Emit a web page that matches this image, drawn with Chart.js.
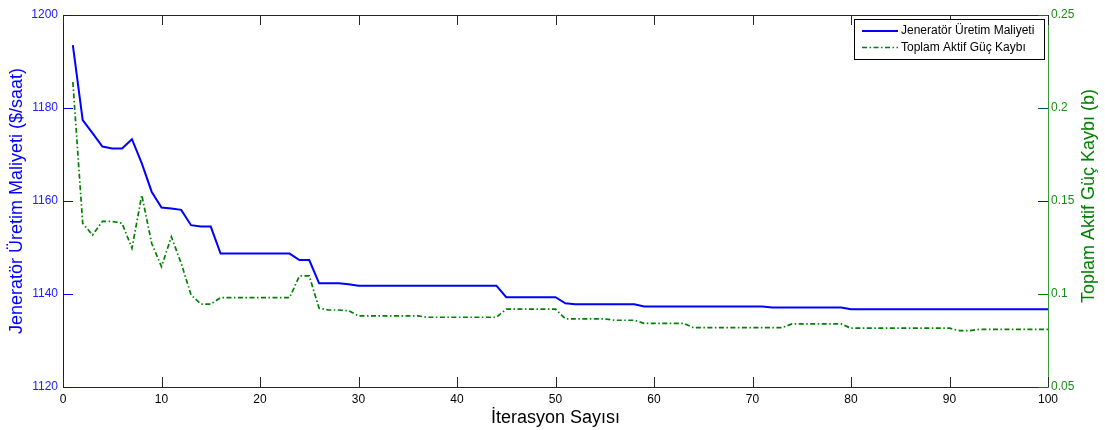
<!DOCTYPE html>
<html>
<head>
<meta charset="utf-8">
<script src="https://cdn.jsdelivr.net/npm/chart.js@4.4.0/dist/chart.umd.min.js"></script>
<style>
  html, body { margin: 0; padding: 0; background: #ffffff; }
  #wrap { width: 1105px; height: 430px; position: relative; }
</style>
</head>
<body>
<div id="wrap"><canvas id="c" width="1105" height="430"></canvas></div>
<script>
// ---- data ----
const iterations = Array.from({ length: 100 }, (_, i) => i + 1);
const costValues = [
  1193.5, 1177.4, 1174.6, 1171.7, 1171.3, 1171.3, 1173.3, 1168.1, 1162.0, 1158.6,
  1158.4, 1158.1, 1154.8, 1154.5, 1154.5, 1148.7, 1148.7, 1148.7, 1148.7, 1148.7,
  1148.7, 1148.7, 1148.7, 1147.3, 1147.3, 1142.3, 1142.3, 1142.3, 1142.1, 1141.8,
  1141.8, 1141.8, 1141.8, 1141.8, 1141.8, 1141.8, 1141.8, 1141.8, 1141.8, 1141.8,
  1141.8, 1141.8, 1141.8, 1141.8, 1139.3, 1139.3, 1139.3, 1139.3, 1139.3, 1139.3,
  1138.0, 1137.8, 1137.8, 1137.8, 1137.8, 1137.8, 1137.8, 1137.8, 1137.3, 1137.3,
  1137.3, 1137.3, 1137.3, 1137.3, 1137.3, 1137.3, 1137.3, 1137.3, 1137.3, 1137.3,
  1137.3, 1137.1, 1137.1, 1137.1, 1137.1, 1137.1, 1137.1, 1137.1, 1137.1, 1136.7,
  1136.7, 1136.7, 1136.7, 1136.7, 1136.7, 1136.7, 1136.7, 1136.7, 1136.7, 1136.7,
  1136.7, 1136.7, 1136.7, 1136.7, 1136.7, 1136.7, 1136.7, 1136.7, 1136.7, 1136.7
];
const lossValues = [
  0.214, 0.138, 0.1317, 0.139, 0.139, 0.138, 0.1246, 0.1532, 0.1273, 0.1147,
  0.1308, 0.1165, 0.0995, 0.0946, 0.0946, 0.098, 0.098, 0.098, 0.098, 0.098,
  0.098, 0.098, 0.098, 0.1097, 0.1097, 0.0923, 0.0914, 0.0914, 0.091, 0.0882,
  0.0882, 0.0882, 0.0882, 0.0882, 0.0882, 0.0882, 0.0875, 0.0875, 0.0875, 0.0875,
  0.0875, 0.0875, 0.0875, 0.0875, 0.0919, 0.0919, 0.0919, 0.0919, 0.0919, 0.0919,
  0.0866, 0.0866, 0.0866, 0.0866, 0.0866, 0.0859, 0.0859, 0.0859, 0.0842, 0.0842,
  0.0842, 0.0842, 0.0842, 0.0819, 0.0819, 0.0819, 0.0819, 0.0819, 0.0819, 0.0819,
  0.0819, 0.0819, 0.0819, 0.0839, 0.0839, 0.0839, 0.0839, 0.0839, 0.0839, 0.0816,
  0.0816, 0.0816, 0.0816, 0.0816, 0.0816, 0.0816, 0.0816, 0.0816, 0.0816, 0.0816,
  0.0803, 0.0803, 0.081, 0.081, 0.081, 0.081, 0.081, 0.081, 0.081, 0.081
];
const xTicks = [0, 10, 20, 30, 40, 50, 60, 70, 80, 90, 100];
const leftTicks = [1120, 1140, 1160, 1180, 1200];
const rightTicks = [0.05, 0.1, 0.15, 0.2, 0.25];
const seriesNames = ['Jeneratör Üretim Maliyeti', 'Toplam Aktif Güç Kaybı'];
const leftTitle = 'Jeneratör Üretim Maliyeti ($/saat)';
const rightTitle = 'Toplam Aktif Güç Kaybı (b)';
const xTitle = 'İterasyon Sayısı';

// ---- styles ----
const FONT = "'Liberation Sans', Arial, sans-serif";
const BLUE = '#0000ff';
const GREEN = '#008000';
const AXIS_DARK = '#262626';
const TICK_LEN = 10;
const TITLE_SIZE = 18;

const decorPlugin = {
  id: 'decor',
  afterDraw(chart) {
    const ctx = chart.ctx;
    const ca = chart.chartArea;
    const xs = chart.scales.x, yl = chart.scales.y, yr = chart.scales.y1;
    ctx.save();
    // top box line
    ctx.strokeStyle = AXIS_DARK;
    ctx.lineWidth = 1;
    ctx.beginPath();
    ctx.moveTo(ca.left, ca.top + 0.5);
    ctx.lineTo(ca.right, ca.top + 0.5);
    ctx.stroke();
    // x ticks (inward, bottom and top)
    xTicks.forEach(v => {
      const px = Math.round(xs.getPixelForValue(v)) + 0.5;
      ctx.beginPath();
      ctx.moveTo(px, ca.bottom); ctx.lineTo(px, ca.bottom - TICK_LEN);
      ctx.moveTo(px, ca.top); ctx.lineTo(px, ca.top + TICK_LEN);
      ctx.stroke();
    });
    // left ticks (blue, inward)
    ctx.strokeStyle = BLUE;
    leftTicks.forEach(v => {
      const py = Math.round(yl.getPixelForValue(v)) + 0.5;
      ctx.beginPath();
      ctx.moveTo(ca.left, py); ctx.lineTo(ca.left + TICK_LEN, py);
      ctx.stroke();
    });
    // right ticks (inward)
    const rightCols = ['#008000', '#008000', '#0000ff', '#004a6a', '#008000'];
    rightTicks.forEach((v, i) => {
      const py = Math.round(yr.getPixelForValue(v)) + 0.5;
      ctx.strokeStyle = rightCols[i];
      ctx.beginPath();
      ctx.moveTo(ca.right, py); ctx.lineTo(ca.right - TICK_LEN, py);
      ctx.stroke();
    });
    // right title, reading bottom to top
    ctx.fillStyle = GREEN;
    ctx.font = TITLE_SIZE + 'px ' + FONT;
    ctx.textAlign = 'center';
    ctx.textBaseline = 'middle';
    ctx.translate(1089, (ca.top + ca.bottom) / 2 - 5);
    ctx.rotate(-Math.PI / 2);
    ctx.fillText(rightTitle, 0, 0);
    ctx.restore();

    // legend box
    ctx.save();
    const bx = 854.5, by = 19.5, bw = 190, bh = 40;
    ctx.fillStyle = '#ffffff';
    ctx.fillRect(bx, by, bw, bh);
    ctx.strokeStyle = '#000000';
    ctx.lineWidth = 1;
    ctx.strokeRect(bx, by, bw, bh);
    const rows = [31, 47.5];
    chart.data.datasets.forEach((ds, i) => {
      ctx.strokeStyle = ds.borderColor;
      ctx.lineWidth = ds.borderWidth;
      ctx.setLineDash(ds.borderDash || []);
      ctx.beginPath();
      ctx.moveTo(862, rows[i]);
      ctx.lineTo(898, rows[i]);
      ctx.stroke();
      ctx.setLineDash([]);
      ctx.fillStyle = '#000000';
      ctx.font = '12px ' + FONT;
      ctx.textAlign = 'left';
      ctx.textBaseline = 'middle';
      ctx.fillText(ds.label, 901, rows[i]);
    });
    ctx.restore();
  }
};

new Chart(document.getElementById('c'), {
  type: 'line',
  data: {
    datasets: [
      {
        label: seriesNames[0],
        data: iterations.map((x, i) => ({ x: x, y: costValues[i] })),
        yAxisID: 'y',
        borderColor: BLUE,
        borderWidth: 2,
        pointRadius: 0,
        tension: 0,
        fill: false
      },
      {
        label: seriesNames[1],
        data: iterations.map((x, i) => ({ x: x, y: lossValues[i] })),
        yAxisID: 'y1',
        borderColor: GREEN,
        borderWidth: 1.7,
        borderDash: [5, 2.5, 1.5, 2.5],
        pointRadius: 0,
        tension: 0,
        fill: false
      }
    ]
  },
  options: {
    responsive: false,
    animation: false,
    layout: { padding: { top: 15, left: 0, right: 0, bottom: 0 } },
    plugins: { legend: { display: false }, tooltip: { enabled: false } },
    scales: {
      x: {
        type: 'linear',
        position: 'bottom',
        min: 0, max: 100,
        afterBuildTicks: s => { s.ticks = xTicks.map(v => ({ value: v })); },
        afterFit: s => { s.height = 43; },
        ticks: { color: '#000000', font: { family: FONT, size: 12 }, padding: 5, maxRotation: 0,
                 callback: v => String(v) },
        grid: { display: true, drawOnChartArea: false, drawTicks: false },
        border: { display: true, color: AXIS_DARK, width: 1 },
        title: {
          display: true, text: xTitle, color: '#000000',
          font: { family: FONT, size: TITLE_SIZE }, padding: { top: 0, bottom: 0.8 }
        }
      },
      y: {
        type: 'linear',
        position: 'left',
        min: 1120, max: 1200,
        afterBuildTicks: s => { s.ticks = leftTicks.map(v => ({ value: v })); },
        afterFit: s => { s.width = 63; },
        ticks: { color: '#2020ff', font: { family: FONT, size: 12 }, padding: 5,
                 callback: v => String(v) },
        grid: { display: true, drawOnChartArea: false, drawTicks: false },
        border: { display: true, color: BLUE, width: 1 },
        title: {
          display: true, text: leftTitle, color: BLUE,
          font: { family: FONT, size: TITLE_SIZE }, padding: { top: 6.2, bottom: 0 }
        }
      },
      y1: {
        type: 'linear',
        position: 'right',
        min: 0.05, max: 0.25,
        afterBuildTicks: s => { s.ticks = rightTicks.map(v => ({ value: v })); },
        afterFit: s => { s.width = 57; },
        ticks: { color: '#1a8a1a', font: { family: FONT, size: 12 }, padding: 3,
                 callback: v => String(v) },
        grid: { display: true, drawOnChartArea: false, drawTicks: false },
        border: { display: true, color: '#3a9a3a', width: 1 },
        title: { display: false }
      }
    }
  },
  plugins: [decorPlugin]
});
</script>
</body>
</html>
